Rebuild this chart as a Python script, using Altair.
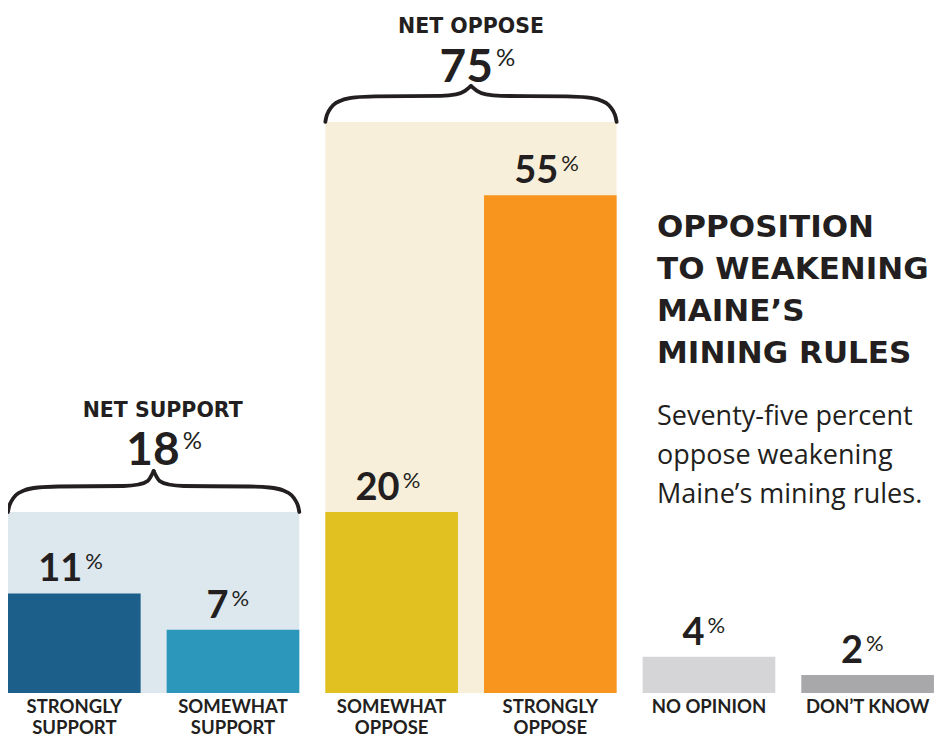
import altair as alt
import pandas as pd

# ---------------- data ----------------
categories = ["STRONGLY\nSUPPORT", "SOMEWHAT\nSUPPORT", "SOMEWHAT\nOPPOSE",
              "STRONGLY\nOPPOSE", "NO OPINION", "DON’T KNOW"]
values = [11, 7, 20, 55, 4, 2]
bar_colors = ["#1c5f8b", "#2c97bb", "#e1c121", "#f7951f", "#d5d5d7", "#a8a8ab"]

net_labels = ["NET SUPPORT", "NET OPPOSE"]
net_values = [18, 75]
net_first = [0, 2]
net_last = [1, 3]
net_fill = ["#dde7ee", "#f8efdb"]

title_text = "OPPOSITION\nTO WEAKENING\nMAINE’S\nMINING RULES"
subtitle_text = "Seventy-five percent\noppose weakening\nMaine’s mining rules."

# ---------------- layout ----------------
W, H = 926, 732
PX_X = 158.66         # px per category step
PX_Y = 9.05           # px per percentage point
BASE = H - 685        # px between baseline and bottom of view
HALF = 0.418          # half bar width in category units
INK = "#231f20"
x_scale = alt.Scale(domain=[-HALF, -HALF + W / PX_X], nice=False, zero=False)
y_scale = alt.Scale(domain=[-BASE / PX_Y, (H - BASE) / PX_Y], nice=False, zero=False)

panel_top = [20.0, 63.1]          # decorative panel heights (in % units)
net_label_off = [95, 89]          # px above panel top (baseline of NET label)
net_num_off = [47, 40]            # px above panel top (baseline of big number)
net_num_dx = [26, 22]             # px right of panel centre (right edge of number)
net_lab_dx = [9, 0]               # px right of panel centre (NET label centre)
brace_tip = [41, 36]              # px above panel top


def X(field):
    return alt.X(field, type="quantitative", scale=x_scale, axis=None)


def Y(field):
    return alt.Y(field, type="quantitative", scale=y_scale, axis=None)


# bars table
bars = pd.DataFrame({
    "idx": list(range(len(values))),
    "value": values,
    "color": bar_colors,
    "label": categories,
})
bars["num"] = bars["value"].astype(str)
bars["x0"] = bars["idx"] - HALF
bars["x1"] = bars["idx"] + HALF
bars["zero"] = 0
bars["numx"] = bars["idx"] + bars["value"].apply(lambda v: 8 if v >= 10 else -4.5) / PX_X
bars["pctx"] = bars["numx"] + 3 / PX_X

# panels table
panels = pd.DataFrame({
    "grp": net_labels,
    "x0": [f - HALF for f in net_first],
    "x1": [l + HALF for l in net_last],
    "top": panel_top,
    "zero": [0, 0],
    "fill": net_fill,
})

# net annotation table
net = pd.DataFrame({
    "label": net_labels,
    "num": [str(v) for v in net_values],
    "cx": [(f + l) / 2 for f, l in zip(net_first, net_last)],
    "ylab": [t + o / PX_Y for t, o in zip(panel_top, net_label_off)],
    "ynum": [t + o / PX_Y for t, o in zip(panel_top, net_num_off)],
})
net["numx"] = net["cx"] + pd.Series(net_num_dx) / PX_X
net["pctx"] = net["numx"] + 3 / PX_X
net["labx"] = net["cx"] + pd.Series(net_lab_dx) / PX_X

# brace geometry built from the panel extents
rows = []
end_prof = [(0, 0), (1, 5), (3.5, 11), (8, 17), (16, 21.5), (30, 24.5), (50, 25.5)]
for g, (f, l, t, tip) in enumerate(zip(net_first, net_last, panel_top, brace_tip)):
    L, R = f - HALF, l + HALF
    C = (L + R) / 2
    tip_prof = [(30, 26), (15, 27.5), (6, 31), (0, tip)]
    for side, sgn, edge in (("l", 1, L), ("r", -1, R)):
        pts = [(edge + sgn * dx / PX_X, t + dy / PX_Y) for dx, dy in end_prof]
        pts += [(C - sgn * dx / PX_X, t + dy / PX_Y) for dx, dy in tip_prof]
        for k, (px, py) in enumerate(pts):
            rows.append({"seg": f"{g}{side}", "bx": px, "by": py, "k": k})
brace = pd.DataFrame(rows)

# ---------------- layers ----------------
panel_layer = alt.Chart(panels).mark_rect().encode(
    x=X("x0"), x2="x1", y=Y("zero"), y2="top",
    color=alt.Color("fill:N", scale=None),
)

brace_layer = alt.Chart(brace).mark_line(
    interpolate="monotone", strokeWidth=3.8, color=INK, strokeCap="round"
).encode(x=X("bx"), y=Y("by"), detail="seg:N", order="k:Q")

bar_layer = alt.Chart(bars).mark_rect().encode(
    x=X("x0"), x2="x1", y=Y("zero"), y2="value",
    color=alt.Color("color:N", scale=None),
)

num_layer = alt.Chart(bars).mark_text(
    align="right", baseline="alphabetic", font="Lato", fontSize=38,
    fontWeight="bold", dy=-12, color=INK,
).encode(x=X("numx"), y=Y("value"), text="num:N")

pct_layer = alt.Chart(bars).mark_text(
    align="left", baseline="alphabetic", font="Lato", fontSize=22,
    fontWeight="normal", dy=-24, color=INK,
).encode(x=X("pctx"), y=Y("value"), text=alt.value("%"))

cat_layer = alt.Chart(bars).mark_text(
    align="center", baseline="alphabetic", font="Lato", fontSize=18.5,
    fontWeight="bold", lineBreak="\n", lineHeight=21, color=INK,
).encode(x=X("idx"), y=alt.value(705), text="label:N")

net_lab_layer = alt.Chart(net).mark_text(
    align="center", baseline="alphabetic", font="DejaVu Sans", fontSize=20.5,
    fontWeight="bold", color=INK,
).encode(x=X("labx"), y=Y("ylab"), text="label:N")

net_num_layer = alt.Chart(net).mark_text(
    align="right", baseline="alphabetic", font="Lato", fontSize=46,
    fontWeight="bold", color=INK,
).encode(x=X("numx"), y=Y("ynum"), text="num:N")

net_pct_layer = alt.Chart(net).mark_text(
    align="left", baseline="alphabetic", font="Lato", fontSize=24,
    fontWeight="normal", dy=-16, color=INK,
).encode(x=X("pctx"), y=Y("ynum"), text=alt.value("%"))

title_layer = alt.Chart(pd.DataFrame({"t": [title_text]})).mark_text(
    align="left", baseline="alphabetic", font="DejaVu Sans", fontSize=31,
    fontWeight="bold", lineBreak="\n", lineHeight=42, color=INK,
).encode(x=alt.value(649), y=alt.value(229), text="t:N")

subtitle_layer = alt.Chart(pd.DataFrame({"t": [subtitle_text]})).mark_text(
    align="left", baseline="alphabetic", font="Open Sans", fontSize=27,
    fontWeight="normal", lineBreak="\n", lineHeight=39, color=INK,
).encode(x=alt.value(649), y=alt.value(417), text="t:N")

chart = alt.layer(
    panel_layer, brace_layer, bar_layer, num_layer, pct_layer, cat_layer,
    net_lab_layer, net_num_layer, net_pct_layer, title_layer, subtitle_layer,
).properties(
    width=W, height=H, autosize="none", padding=0, background="white",
).configure_view(stroke=None)

chart.save("out.html", embed_options={"renderer": "svg", "actions": False})
